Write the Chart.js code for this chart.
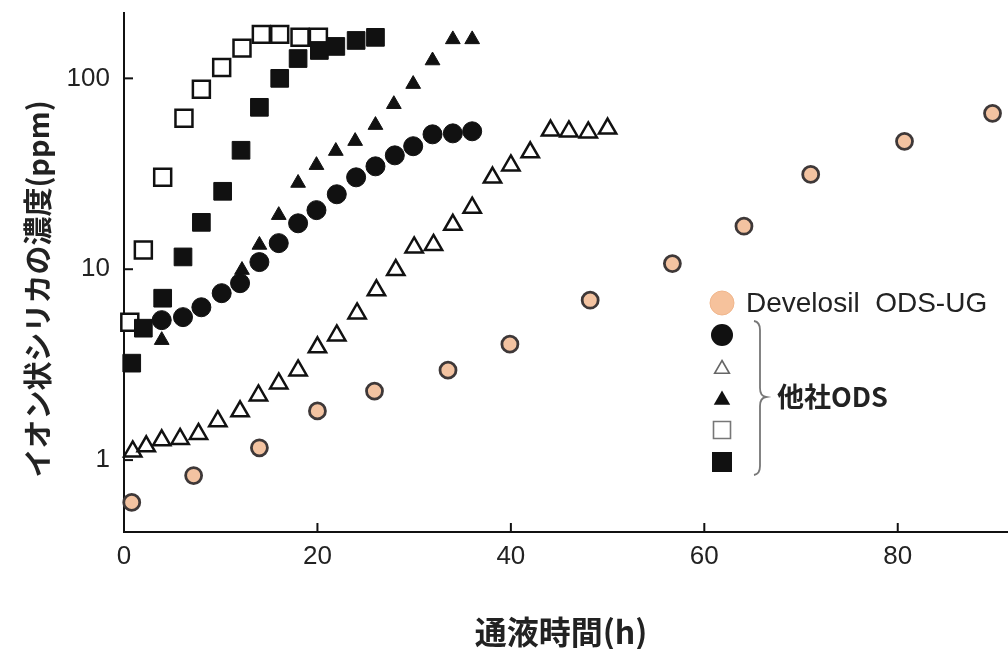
<!DOCTYPE html>
<html>
<head>
<meta charset="utf-8">
<script src="https://cdn.jsdelivr.net/npm/chart.js@4.4.1/dist/chart.umd.min.js"></script>
<style>
html,body{margin:0;padding:0;background:#fff;}
#wrap{width:1008px;height:649px;}
</style>
</head>
<body>
<div id="wrap"><canvas id="c" width="1008" height="649"></canvas></div>
<script>
// ---- data ----
const xTickValues = [0, 20, 40, 60, 80];
const yTickValues = [1, 10, 100];
const xTitle = "通液時間(h)";
const yTitle = "イオン状シリカの濃度(ppm)";
const legendMain = "Develosil  ODS-UG";
const legendOther = "他社ODS";

const devX = [0.8, 7.2, 14, 20, 25.9, 33.5, 39.9, 48.2, 56.7, 64.1, 71, 80.7, 89.8];
const devY = [0.60, 0.83, 1.16, 1.81, 2.30, 2.96, 4.05, 6.88, 10.7, 16.8, 31.4, 46.8, 65.6];

const fcX = [3.9, 6.1, 8, 10.1, 12, 14, 16, 18, 19.9, 22, 24, 26, 28, 29.9, 31.9, 34, 36];
const fcY = [5.41, 5.61, 6.32, 7.49, 8.45, 10.9, 13.7, 17.4, 20.4, 24.7, 30.3, 34.6, 39.5, 44.1, 50.9, 51.5, 52.8];

const otX = [0.9, 2.3, 3.9, 5.8, 7.7, 9.7, 12, 13.9, 16, 18, 20, 22, 24.1, 26.1, 28.1, 30, 32, 34, 36, 38.1, 40, 42, 44.1, 46, 48, 50];
const otY = [1.11, 1.18, 1.27, 1.29, 1.37, 1.60, 1.80, 2.18, 2.52, 2.95, 3.9, 4.5, 5.87, 7.75, 9.9, 13.0, 13.4, 17.1, 21.0, 30.2, 35.0, 41, 53.3, 52.7, 52.1, 54.6];

const ftX = [3.9, 12.2, 14, 16, 18, 19.9, 21.9, 23.9, 26, 27.9, 29.9, 31.9, 34, 36];
const ftY = [4.25, 9.9, 13.4, 19.2, 28.3, 35.1, 41.6, 46.9, 56.9, 73.2, 93.3, 124, 160, 160];

const osX = [0.6, 2, 4, 6.2, 8, 10.1, 12.2, 14.2, 16.1, 18.2, 20.1];
const osY = [5.28, 12.6, 30.3, 61.8, 87.6, 114, 144, 170, 170, 164, 164];

const fsX = [0.8, 2, 4, 6.1, 8, 10.2, 12.1, 14, 16.1, 18, 20.2, 21.9, 24, 26];
const fsY = [3.22, 4.91, 7.05, 11.6, 17.6, 25.6, 42, 70.5, 100, 127, 140, 147, 158, 164];

function pts(xs, ys){ return xs.map((x,i)=>({x:x, y:ys[i]})); }

const INK = '#111';
const PEACH = '#f3c3a1';

const datasets = [
  {label:'fs', data:pts(fsX,fsY), pointStyle:'rect', pointRadius:12.5, backgroundColor:INK, borderColor:INK, borderWidth:1},
  {label:'os', data:pts(osX,osY), pointStyle:'rect', pointRadius:12, backgroundColor:'#fff', borderColor:INK, borderWidth:2.5},
  {label:'ft', data:pts(ftX,ftY), pointStyle:'triangle', pointRadius:8.5, backgroundColor:INK, borderColor:INK, borderWidth:1},
  {label:'fc', data:pts(fcX,fcY), pointStyle:'circle', pointRadius:9.5, backgroundColor:INK, borderColor:INK, borderWidth:1},
  {label:'ot', data:pts(otX,otY), pointStyle:'triangle', pointRadius:10, backgroundColor:'#fff', borderColor:INK, borderWidth:2.5},
  {label:legendMain, data:pts(devX,devY), pointStyle:'circle', pointRadius:8, backgroundColor:PEACH, borderColor:'#3e3838', borderWidth:2.8}
];
datasets.forEach(d=>{ d.showLine=false; d.pointHoverRadius=d.pointRadius; d.pointBorderWidth=d.borderWidth; d.clip=false; });

const LATIN = '"Liberation Sans", Arial, sans-serif';
const CJK = '"Noto Sans CJK JP", "Liberation Sans", sans-serif';

function drawMarker(ctx, style, x, y, r, fill, stroke, lw){
  ctx.save();
  ctx.beginPath();
  if(style==='circle'){ ctx.arc(x,y,r,0,Math.PI*2); }
  else if(style==='triangle'){
    ctx.moveTo(x, y - r);
    ctx.lineTo(x + r*Math.sin(Math.PI*2/3), y - r*Math.cos(Math.PI*2/3));
    ctx.lineTo(x + r*Math.sin(Math.PI*4/3), y - r*Math.cos(Math.PI*4/3));
    ctx.closePath();
  } else { ctx.rect(x-r, y-r, 2*r, 2*r); }
  if(fill){ ctx.fillStyle=fill; ctx.fill(); }
  if(stroke){ ctx.strokeStyle=stroke; ctx.lineWidth=lw; ctx.stroke(); }
  ctx.restore();
}

const decor = {
  id:'decor',
  afterDraw(chart){
    const ctx = chart.ctx;
    const xs = chart.scales.x, ys = chart.scales.y;
    const ca = chart.chartArea;
    ctx.save();
    // inward ticks
    ctx.strokeStyle = INK; ctx.lineWidth = 2;
    xTickValues.forEach(v=>{
      const px = xs.getPixelForValue(v);
      if(v===0) return;
      ctx.beginPath(); ctx.moveTo(px, ca.bottom); ctx.lineTo(px, ca.bottom-9); ctx.stroke();
    });
    yTickValues.forEach(v=>{
      const py = ys.getPixelForValue(v);
      ctx.beginPath(); ctx.moveTo(ca.left, py); ctx.lineTo(ca.left+9, py); ctx.stroke();
    });
    // axis titles
    ctx.fillStyle = '#222';
    ctx.font = 'bold 32px ' + CJK;
    ctx.textAlign = 'center'; ctx.textBaseline = 'middle';
    ctx.fillText(xTitle, 561, 632);
    ctx.save();
    ctx.translate(38, 289);
    ctx.rotate(-Math.PI/2);
    ctx.font = 'bold 29px ' + CJK;
    ctx.fillText(yTitle, 0, 0);
    ctx.restore();
    // legend
    drawMarker(ctx,'circle',722,303,12,'#f6c29c','#f0b68c',1);
    drawMarker(ctx,'circle',722,335,11,INK,null,0);
    drawMarker(ctx,'triangle',722,369,8.5,'#fff','#666',1.6);
    drawMarker(ctx,'triangle',722,400,9.5,INK,null,0);
    drawMarker(ctx,'rect',722,430,8.5,'#fff','#777',1.6);
    drawMarker(ctx,'rect',722,462,10,INK,null,0);
    ctx.fillStyle = '#222';
    ctx.textAlign = 'left'; ctx.textBaseline = 'middle';
    ctx.font = '28px ' + LATIN;
    ctx.fillText(legendMain, 746, 304);
    ctx.font = 'bold 27px ' + CJK;
    ctx.fillText(legendOther, 777, 397);
    // bracket
    ctx.strokeStyle = '#777'; ctx.lineWidth = 1.8;
    ctx.beginPath();
    ctx.moveTo(754, 321);
    ctx.quadraticCurveTo(760, 322, 760, 330);
    ctx.lineTo(760, 388);
    ctx.quadraticCurveTo(760, 396, 766, 397);
    ctx.quadraticCurveTo(760, 398, 760, 406);
    ctx.lineTo(760, 466);
    ctx.quadraticCurveTo(760, 474, 754, 475);
    ctx.stroke();
    ctx.restore();
  }
};

new Chart(document.getElementById('c'), {
  type:'scatter',
  data:{datasets:datasets},
  options:{
    responsive:false,
    animation:false,
    events:[],
    layout:{autoPadding:false, padding:{top:13,right:0,left:0,bottom:0}},
    plugins:{legend:{display:false}, tooltip:{enabled:false}},
    scales:{
      x:{
        type:'linear', position:'bottom', min:0, max:91.4,
        afterFit(s){ s.height = 117; s.paddingLeft = 0; s.paddingRight = 0; },
        afterBuildTicks(s){ s.ticks = xTickValues.map(v=>({value:v})); },
        ticks:{color:'#222', font:{family:LATIN, size:26}, padding:9, maxRotation:0, autoSkip:false},
        grid:{drawOnChartArea:false, drawTicks:false},
        border:{display:true, color:INK, width:2}
      },
      y:{
        type:'logarithmic', position:'left', min:0.42, max:220,
        afterFit(s){ s.width = 124; s.paddingTop = 0; s.paddingBottom = 0; },
        afterBuildTicks(s){ s.ticks = yTickValues.map(v=>({value:v})); },
        ticks:{color:'#222', font:{family:LATIN, size:26}, padding:14, callback:(v)=>String(v), autoSkip:false},
        grid:{drawOnChartArea:false, drawTicks:false},
        border:{display:true, color:INK, width:2}
      }
    }
  },
  plugins:[decor]
});
</script>
</body>
</html>
